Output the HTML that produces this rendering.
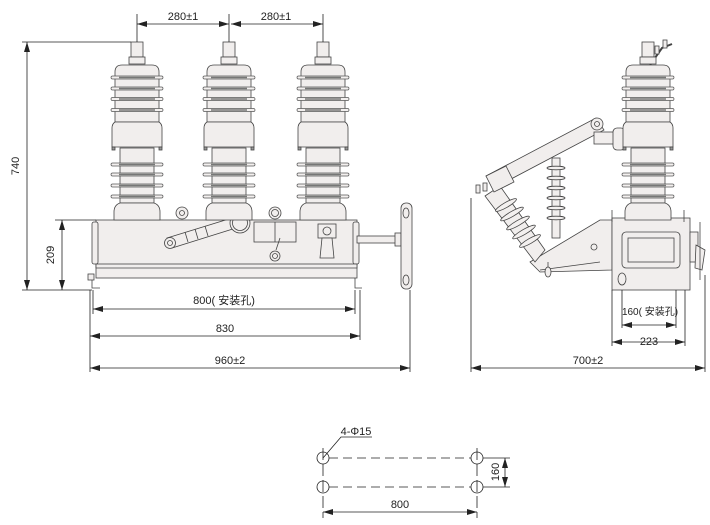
<!DOCTYPE html>
<html><head><meta charset="utf-8"><style>
html,body{margin:0;padding:0;background:#fff;}
svg{display:block;}
text{font-family:"Liberation Sans","Noto Sans CJK SC",sans-serif;font-size:11px;fill:#222;}
</style></head><body>
<svg width="710" height="525" viewBox="0 0 710 525" xmlns="http://www.w3.org/2000/svg">
<defs>
<marker id="a" viewBox="0 0 10 6" refX="10" refY="3" markerWidth="10" markerHeight="6" orient="auto-start-reverse" markerUnits="userSpaceOnUse"><path d="M0,0 L10,3 L0,6z" fill="#222"/></marker>
<g id="shed"><rect x="-26" y="-1.5" width="52" height="3" rx="1.5" fill="#f3f0ef" stroke="#555" stroke-width="0.7"/><line x1="-18" y1="0" x2="18" y2="0" stroke="#777" stroke-width="1.6"/></g>
<g id="pole" stroke="#444" stroke-width="0.8" fill="#f1eeed">
<rect x="-6" y="42" width="12" height="15"/>
<rect x="-8" y="57" width="16" height="7"/>
<path d="M-22,122 L-22,72 Q-22,65 -15,65 L15,65 Q22,65 22,72 L22,122z"/>
<use href="#shed" y="77.5"/><use href="#shed" y="88.5"/><use href="#shed" y="99"/><use href="#shed" y="110"/>
<path d="M-22,122 Q-25,124 -25,128 L-25,147 L25,147 L25,128 Q25,124 22,122z"/>
<rect x="-25" y="147" width="3" height="3" fill="#999"/><rect x="22" y="147" width="3" height="3" fill="#999"/>
<rect x="-17" y="148" width="34" height="55"/>
<use href="#shed" y="164.5"/><use href="#shed" y="174.5"/><use href="#shed" y="185.5"/><use href="#shed" y="196.5"/>
<path d="M-17,203 Q-23,205 -23,212 L-23,220 L23,220 L23,212 Q23,205 17,203z"/>
</g>
</defs>

<!-- FRONT VIEW -->
<g stroke="#444" stroke-width="0.8" fill="#f1eeed">
<rect x="96" y="220" width="261" height="48"/>
<rect x="92" y="222" width="6" height="42" rx="2"/>
<rect x="353" y="222" width="6" height="42" rx="2"/>
<rect x="96" y="264" width="261" height="14"/>
<line x1="96" y1="268" x2="357" y2="268"/>
<path d="M92,278 L92,288 L100,288 M355,278 L355,288 L362,288" fill="none"/>
<rect x="88" y="274" width="6" height="6"/>
<rect x="357" y="236" width="43" height="7"/>
<rect x="395" y="233" width="6" height="13"/>
<rect x="401" y="203" width="11" height="86" rx="5"/>
<ellipse cx="406" cy="213" rx="3" ry="5"/><ellipse cx="406" cy="280" rx="3" ry="5"/>
<circle cx="182" cy="213" r="6"/><circle cx="182" cy="213" r="2.5"/>
<circle cx="275" cy="213" r="6"/><circle cx="275" cy="213" r="3.5"/>
<path d="M167,238 L232,218 L236,228 L172,248z"/>
<circle cx="170" cy="243" r="5.5"/><circle cx="170" cy="243" r="2.5"/>
<circle cx="240" cy="223" r="10"/><circle cx="240" cy="223" r="7.5"/>
<line x1="185" y1="232" x2="188" y2="242"/><line x1="195" y1="229" x2="198" y2="239"/><line x1="205" y1="226" x2="208" y2="236"/>
<rect x="254" y="222" width="42" height="20" fill="none"/>
<line x1="275" y1="222" x2="275" y2="242"/>
<path d="M280,238 L276,250" fill="none"/>
<circle cx="275" cy="256" r="5"/><circle cx="275" cy="256" r="2.5"/>
<rect x="318" y="224" width="18" height="14"/>
<path d="M322,238 L320,258 L334,258 L332,238z"/>
<circle cx="327" cy="231" r="4"/>
</g>
<use href="#pole" x="137"/><use href="#pole" x="229"/><use href="#pole" x="323"/>

<!-- SIDE VIEW -->
<g stroke="#444" stroke-width="0.8" fill="#f1eeed">
<path d="M530,262 L600,220 L612,220 L612,270 L540,272z"/>
<path d="M485,196 L500,186 L545,250 L535,262z"/>
<g fill="#f3f0ef">
<ellipse cx="506" cy="205" rx="12" ry="2.5" transform="rotate(-30 506 205)"/>
<ellipse cx="512" cy="214" rx="13" ry="2.5" transform="rotate(-30 512 214)"/>
<ellipse cx="518" cy="223" rx="13" ry="2.5" transform="rotate(-30 518 223)"/>
<ellipse cx="524" cy="232" rx="13" ry="2.5" transform="rotate(-30 524 232)"/>
<ellipse cx="530" cy="241" rx="12" ry="2.5" transform="rotate(-30 530 241)"/>
</g>
<rect x="552" y="158" width="8" height="80"/>
<g fill="#f3f0ef">
<ellipse cx="556" cy="168" rx="9" ry="1.8"/><ellipse cx="556" cy="178" rx="9" ry="1.8"/>
<ellipse cx="556" cy="188" rx="9" ry="1.8"/><ellipse cx="556" cy="198" rx="9" ry="1.8"/>
<ellipse cx="556" cy="208" rx="9" ry="1.8"/><ellipse cx="556" cy="218" rx="9" ry="1.8"/>
</g>
<path d="M486,176 L596,118 L604,130 L494,188z"/>
<path d="M486,176 L506,166 L514,182 L494,192z"/>
<circle cx="597" cy="124" r="6"/><circle cx="597" cy="124" r="2.5"/>
<rect x="594" y="132" width="22" height="12"/>
<rect x="613" y="128" width="12" height="22" rx="4"/>
<rect x="612" y="218" width="78" height="72"/>
<rect x="622" y="232" width="58" height="36" rx="4"/>
<rect x="628" y="238" width="46" height="24"/>
<rect x="690" y="232" width="8" height="30"/>
<path d="M696,245 L705,250 L702,270 L695,268z"/>
<line x1="700" y1="222" x2="700" y2="280"/>
<ellipse cx="622" cy="279" rx="4" ry="6"/>
<circle cx="594" cy="247" r="3"/>
<path d="M548,262 L548,272 M540,270 L600,262" fill="none"/>
<ellipse cx="548" cy="272" rx="3" ry="5" />
<path d="M612,222 L612,210 M684,222 L684,210" fill="none"/>
<path d="M650,65 L662,48 L672,44" fill="none" stroke-width="2"/>
<rect x="655" y="46" width="4" height="8"/><rect x="663" y="40" width="4" height="8"/>
<rect x="476" y="185" width="4" height="8"/><rect x="483" y="183" width="4" height="8"/>
</g>
<use href="#pole" x="648" y="0"/>

<!-- DIMENSIONS -->
<g stroke="#222" stroke-width="0.8" fill="none">
<line x1="137" y1="14" x2="137" y2="42"/><line x1="229" y1="14" x2="229" y2="42"/><line x1="323" y1="14" x2="323" y2="42"/>
<line x1="137" y1="24" x2="229" y2="24" marker-start="url(#a)" marker-end="url(#a)"/>
<line x1="231" y1="24" x2="323" y2="24" marker-start="url(#a)" marker-end="url(#a)"/>
<line x1="22" y1="42" x2="131" y2="42"/>
<line x1="22" y1="290" x2="92" y2="290"/>
<line x1="27" y1="42" x2="27" y2="290" marker-start="url(#a)" marker-end="url(#a)"/>
<line x1="55" y1="220" x2="96" y2="220"/>
<line x1="62" y1="220" x2="62" y2="290" marker-start="url(#a)" marker-end="url(#a)"/>
<line x1="93" y1="290" x2="93" y2="314"/><line x1="355" y1="290" x2="355" y2="314"/>
<line x1="90" y1="290" x2="90" y2="372"/><line x1="360" y1="290" x2="360" y2="340"/><line x1="410" y1="290" x2="410" y2="372"/>
<line x1="93" y1="309" x2="355" y2="309" marker-start="url(#a)" marker-end="url(#a)"/>
<line x1="90" y1="336" x2="360" y2="336" marker-start="url(#a)" marker-end="url(#a)"/>
<line x1="90" y1="368" x2="410" y2="368" marker-start="url(#a)" marker-end="url(#a)"/>
<line x1="471" y1="198" x2="471" y2="372"/><line x1="705" y1="275" x2="705" y2="372"/>
<line x1="612" y1="290" x2="612" y2="346"/><line x1="685" y1="290" x2="685" y2="346"/>
<line x1="622" y1="290" x2="622" y2="328"/><line x1="676" y1="290" x2="676" y2="328"/>
<line x1="622" y1="325" x2="676" y2="325" marker-start="url(#a)" marker-end="url(#a)"/>
<line x1="612" y1="342" x2="685" y2="342" marker-start="url(#a)" marker-end="url(#a)"/>
<line x1="471" y1="368" x2="705" y2="368" marker-start="url(#a)" marker-end="url(#a)"/>
<circle cx="323" cy="458" r="6"/><circle cx="477" cy="458" r="6"/>
<circle cx="323" cy="487" r="6"/><circle cx="477" cy="487" r="6"/>
<line x1="329" y1="458" x2="471" y2="458" stroke-dasharray="9,5"/>
<line x1="329" y1="487" x2="471" y2="487" stroke-dasharray="9,5"/>
<line x1="323" y1="448" x2="323" y2="518" stroke-dasharray="12,4"/>
<line x1="477" y1="448" x2="477" y2="518" stroke-dasharray="12,4"/>
<line x1="483" y1="458" x2="510" y2="458"/><line x1="483" y1="487" x2="510" y2="487"/>
<line x1="505" y1="458" x2="505" y2="487" marker-start="url(#a)" marker-end="url(#a)"/>
<line x1="323" y1="512" x2="477" y2="512" marker-start="url(#a)" marker-end="url(#a)"/>
<path d="M323,458 L341,437 L372,437"/>
</g>
<g>
<text x="183" y="20" text-anchor="middle">280±1</text>
<text x="276" y="20" text-anchor="middle">280±1</text>
<text transform="translate(19,166) rotate(-90)" text-anchor="middle">740</text>
<text transform="translate(54,255) rotate(-90)" text-anchor="middle">209</text>
<text x="224" y="304" text-anchor="middle">800(  安装孔)</text>
<text x="225" y="332" text-anchor="middle">830</text>
<text x="230" y="364" text-anchor="middle">960±2</text>
<text x="650" y="315" text-anchor="middle" style="font-size:10px">160( 安装孔)</text>
<text x="649" y="345" text-anchor="middle">223</text>
<text x="588" y="364" text-anchor="middle">700±2</text>
<text x="356" y="435" text-anchor="middle">4-Φ15</text>
<text transform="translate(499,472) rotate(-90)" text-anchor="middle">160</text>
<text x="400" y="508" text-anchor="middle">800</text>
</g>
</svg>
</body></html>
